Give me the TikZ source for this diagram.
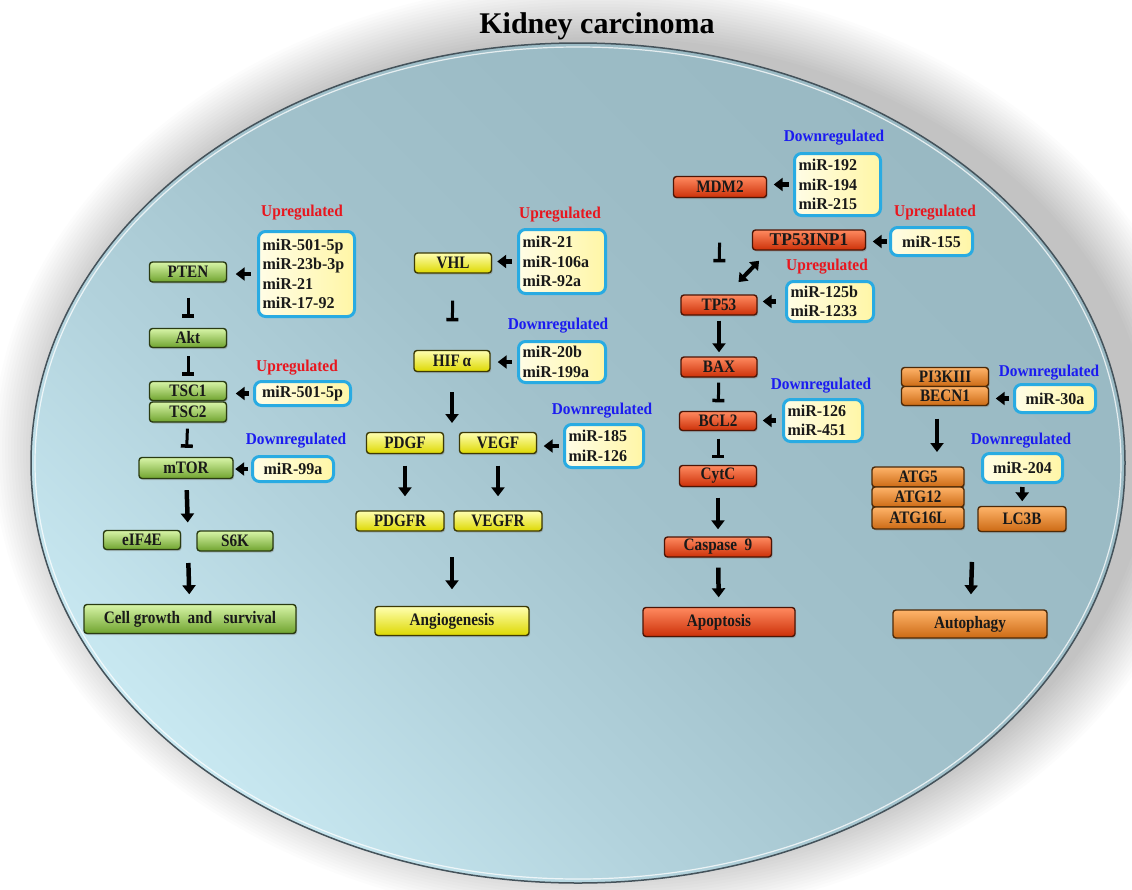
\documentclass[tikz,border=0pt]{standalone}
\usepackage{fontspec}
\setmainfont{Liberation Serif}
\newfontfamily\nodefont[FakeStretch=0.87]{Liberation Serif}
\newfontfamily\mirfont[FakeStretch=0.97]{Liberation Serif}
\newfontfamily\labfont[FakeStretch=0.93]{Liberation Serif}
\usetikzlibrary{arrows.meta,shadows,calc}
\definecolor{gnT}{HTML}{D8F5A8}\definecolor{gnM}{HTML}{9ED155}\definecolor{gnB}{HTML}{6FA32E}\definecolor{gnD}{HTML}{2A3B12}
\definecolor{ylT}{HTML}{FFFFB0}\definecolor{ylM}{HTML}{FFFF00}\definecolor{ylB}{HTML}{DDD800}\definecolor{ylD}{HTML}{3D3A05}
\definecolor{rdT}{HTML}{FF8A60}\definecolor{rdM}{HTML}{F5461A}\definecolor{rdB}{HTML}{CC3008}\definecolor{rdD}{HTML}{4D1505}
\definecolor{orT}{HTML}{FFB46A}\definecolor{orM}{HTML}{F0882A}\definecolor{orB}{HTML}{CC6A14}\definecolor{orD}{HTML}{4D2A08}
\definecolor{mirB}{HTML}{29ABE2}\definecolor{mirL}{HTML}{FFFDE6}\definecolor{mirR}{HTML}{FFF6A6}
\definecolor{upC}{HTML}{E8161E}\definecolor{dnC}{HTML}{1B1BF0}
\definecolor{elA}{HTML}{C8E8F1}\definecolor{elB}{HTML}{B2D2DC}\definecolor{elC}{HTML}{A2C2CC}
\definecolor{elD}{HTML}{9CBCC6}\definecolor{elF}{HTML}{99B9C3}\definecolor{elE}{HTML}{44525A}
\pgfdeclareverticalshading{elshade}{100bp}{color(0bp)=(elA); color(25bp)=(elA); color(38bp)=(elB);
  color(50bp)=(elC); color(62bp)=(elD); color(75bp)=(elF); color(100bp)=(elF)}
\begin{document}
\begin{tikzpicture}[x=1pt,y=-1pt,
  box/.style={rounded corners=3pt, line width=1.4pt, inner sep=0pt,
    font=\nodefont\bfseries\fontsize{17.5}{19}\selectfont, text=black!90,
    drop shadow={shadow xshift=1.2pt, shadow yshift=-1.5pt, opacity=0.4}},
  wh/.style 2 args={minimum width=#1pt, minimum height=#2pt},
  gn/.style={box, draw=gnD, top color=gnT, middle color=gnM, bottom color=gnB},
  yl/.style={box, draw=ylD, top color=ylT, middle color=ylM, bottom color=ylB},
  rd/.style={box, draw=rdD, top color=rdT, middle color=rdM, bottom color=rdB},
  og/.style={box, draw=orD, top color=orT, middle color=orM, bottom color=orB},
  mir/.style={rounded corners=7pt, draw=mirB, line width=3pt, left color=mirL, right color=mirR,
    inner xsep=4pt, inner ysep=1pt, font=\mirfont\bfseries\fontsize{16.5}{19.5}\selectfont, text=black!90},
  mirm/.style={mir, align=left},
  lab/.style={inner sep=0pt, font=\labfont\bfseries\fontsize{16.5}{18}\selectfont},
  up/.style={lab, text=upC},
  dn/.style={lab, text=dnC},
  arr/.style={line width=4.5pt, -{Triangle[width=13pt,length=9pt]}},
  inh/.style={line width=3pt, -{Bar[width=12pt,line width=3.5pt]}},
  dbl/.style={line width=4pt, {Triangle[width=12pt,length=8pt]}-{Triangle[width=12pt,length=8pt]}}
]
\useasboundingbox (0,0) rectangle (1132,889);
\fill[white] (0,0) rectangle (1132,889);
% soft shadow around the ellipse
\foreach \k in {0,...,19} {
  \fill[black,opacity=0.013] (600,450) ellipse [x radius={607pt-3pt*\k}, y radius={470pt-3pt*\k}];
}
% main ellipse
\path[shading=elshade, shading angle=-45]
  (578,463) ellipse [x radius=547pt, y radius=420pt];
\draw[elE, line width=1.5pt] (578,463) ellipse [x radius=547pt, y radius=420pt];
\draw[white, opacity=0.75, line width=1.2pt] (578,463) ellipse [x radius=543pt, y radius=416pt];

\node[anchor=base, font=\bfseries\fontsize{30}{32}\selectfont] (title) at (597,33) {Kidney carcinoma};

% ---------- left column ----------
\node[up] (u1) at (302,213) {Upregulated};
\node[mirm, wh={96}{85}, text width=88pt] (mir1) at (306.5,274) {miR-501-5p\\miR-23b-3p\\miR-21\\miR-17-92};
\node[gn, wh={77}{20}] (pten) at (188,272) {PTEN};
\node[gn, wh={77}{19}] (akt) at (188,338) {Akt};
\node[gn, wh={77}{19}] (tsc1) at (188,391) {TSC1};
\node[gn, wh={77}{20}] (tsc2) at (188,412) {TSC2};
\node[up] (u2) at (297,368) {Upregulated};
\node[mir, wh={96}{24}] (mir2) at (302.5,393.5) {miR-501-5p};
\node[dn] (d1) at (296,441) {Downregulated};
\node[gn, wh={94}{21}] (mtor) at (186,468) {mTOR};
\node[mir, wh={81}{25}] (mir3) at (293,469) {miR-99a};
\node[gn, wh={77}{19}] (eif) at (142,540) {eIF4E};
\node[gn, wh={76}{20}] (s6k) at (235,541) {S6K};
\node[gn, wh={212}{29}] (cell) at (190,619) {Cell growth\ \ and\ \ \ survival};
\coordinate (g1) at (188,530.5);
\coordinate (g2) at (188,551);

% ---------- middle column ----------
\node[up] (u3) at (560,215) {Upregulated};
\node[mirm, wh={87}{64}, text width=79pt] (mir4) at (562,261.5) {miR-21\\miR-106a\\miR-92a};
\node[yl, wh={77}{20}] (vhl) at (453,263) {VHL};
\node[dn] (d2) at (558,326) {Downregulated};
\node[mirm, wh={87}{41}, text width=79pt] (mir5) at (562,362) {miR-20b\\miR-199a};
\node[yl, wh={76}{21}] (hif) at (452,361) {HIF\,α};
\node[dn] (d3) at (602,411) {Downregulated};
\node[yl, wh={77}{21}] (pdgf) at (405,443) {PDGF};
\node[yl, wh={77}{21}] (vegf) at (498,443) {VEGF};
\node[mirm, wh={79}{43}, text width=71pt] (mir6) at (604,446) {miR-185\\miR-126};
\node[yl, wh={88}{20}] (pdgfr) at (400,521) {PDGFR};
\node[yl, wh={88}{20}] (vegfr) at (498,521) {VEGFR};
\node[yl, wh={154}{29}] (angio) at (452,621) {Angiogenesis};
\coordinate (g3) at (452,432.5);
\coordinate (g4) at (452,531);

% ---------- apoptosis column ----------
\node[dn] (d4) at (834,138) {Downregulated};
\node[mirm, wh={86}{62}, text width=78pt] (mir7) at (837.5,184.5) {miR-192\\miR-194\\miR-215};
\node[rd, wh={93}{21}] (mdm2) at (720,187) {MDM2};
\node[up] (u4) at (935,213) {Upregulated};
\node[mir, wh={82}{28}] (mir8) at (931.5,241.5) {miR-155};
\node[rd, wh={113}{20}, font=\mirfont\bfseries\fontsize{18}{19}\selectfont] (tp53inp1) at (809,240) {TP53INP1};
\node[up] (u5) at (827,267) {Upregulated};
\node[mirm, wh={87}{40}, text width=79pt] (mir9) at (830,301.5) {miR-125b\\miR-1233};
\node[rd, wh={76}{20}] (tp53) at (719,305) {TP53};
\node[rd, wh={76}{20}] (bax) at (719,367) {BAX};
\node[dn] (d5) at (821,386) {Downregulated};
\node[mirm, wh={79}{42}, text width=71pt] (mir10) at (823,420.5) {miR-126\\miR-451};
\node[rd, wh={77}{19}] (bcl2) at (718,421) {BCL2};
\node[rd, wh={77}{21}] (cytc) at (718,476) {CytC};
\node[rd, wh={107}{20}] (casp) at (718,547) {Caspase\ \ 9};
\node[rd, wh={152}{29}] (apop) at (719,622) {Apoptosis};

% ---------- autophagy column ----------
\node[og, wh={87}{19}] (pi3k) at (945,377) {PI3KIII};
\node[og, wh={87}{19}] (becn1) at (945,396) {BECN1};
\node[dn] (d6) at (1049,373) {Downregulated};
\node[mir, wh={81}{28}] (mir11) at (1055,398.5) {miR-30a};
\node[dn] (d7) at (1021,441) {Downregulated};
\node[mir, wh={80}{29}] (mir12) at (1022.5,468) {miR-204};
\node[og, wh={92}{20}] (atg5) at (918,477) {ATG5};
\node[og, wh={92}{20}] (atg12) at (918,497) {ATG12};
\node[og, wh={92}{22}] (atg16) at (918,518) {ATG16L};
\node[og, wh={88}{25}] (lc3b) at (1022,519) {LC3B};
\node[og, wh={154}{28}] (autoph) at (970,624) {Autophagy};
\coordinate (g5) at (937,467);
\coordinate (g6) at (973,530);

% ---------- connectors ----------
\draw[inh, shorten <=15pt, shorten >=10pt] (pten) -- (akt);
\draw[inh, shorten <=8pt, shorten >=5pt] (akt) -- (tsc1);
\draw[inh, shorten <=6pt, shorten >=9pt] (tsc2) -- (mtor);
\draw[arr, shorten <=11pt, shorten >=8pt] (mtor) -- (g1);
\draw[arr, shorten <=12pt, shorten >=9.5pt] (g2) -- (cell);
\draw[arr, shorten <=6.5pt, shorten >=8.5pt] (mir1.west) -- (mir1.west -| pten.east);
\draw[arr, shorten <=4.5pt, shorten >=8.5pt] (mir2.west) -- (mir2.west -| tsc1.east);
\draw[arr, shorten <=3.5pt, shorten >=1.5pt] (mir3.west) -- (mir3.west -| mtor.east);

\draw[inh, shorten <=27pt, shorten >=28.5pt] (vhl) -- (hif);
\draw[arr, shorten <=20pt, shorten >=9.5pt] (hif) -- (g3);
\draw[arr, shorten <=11.5pt, shorten >=14pt] (pdgf) -- (pdgf |- pdgfr.north);
\draw[arr, shorten <=11.5pt, shorten >=14pt] (vegf) -- (vegfr);
\draw[arr, shorten <=26pt, shorten >=16.5pt] (g4) -- (angio);
\draw[arr, shorten <=5pt, shorten >=5pt] (mir4.west) -- (mir4.west -| vhl.east);
\draw[arr, shorten <=5pt, shorten >=7pt] (mir5.west) -- (mir5.west -| hif.east);
\draw[arr, shorten <=4.5pt, shorten >=6.5pt] (mir6.west) -- (mir6.west -| vegf.east);

\draw[inh, shorten <=44.5pt, shorten >=32pt] (mdm2) -- (tp53);
\draw[dbl, shorten <=14pt, shorten >=17pt] ([xshift=17pt]tp53inp1.south west) -- ([xshift=-31pt]tp53.north east);
\draw[arr, shorten <=5pt, shorten >=4pt] (tp53) -- (bax);
\draw[inh, shorten <=5pt, shorten >=8.5pt] (bax) -- (bcl2);
\draw[inh, shorten <=7.5pt, shorten >=6.5pt] (bcl2) -- (cytc);
\draw[arr, shorten <=10.5pt, shorten >=7pt] (cytc) -- (casp);
\draw[arr, shorten <=10pt, shorten >=9.5pt] (casp) -- (apop);
\draw[arr, shorten <=4.5pt, shorten >=6.5pt] (mir7.west) -- (mir7.west -| mdm2.east);
\draw[arr, shorten <=2.5pt, shorten >=6.5pt] (mir8.west) -- (mir8.west -| tp53inp1.east);
\draw[arr, shorten <=9.5pt, shorten >=5pt] (mir9.west) -- (mir9.west -| tp53.east);
\draw[arr, shorten <=6.5pt, shorten >=5.5pt] (mir10.west) -- (mir10.west -| bcl2.east);

\draw[arr, shorten <=12.5pt, shorten >=15pt] (becn1.south -| g5) -- (g5);
\draw[arr, shorten <=4.5pt, shorten >=6.5pt] (mir11.west) -- (mir11.west -| becn1.east);
\draw[arr, shorten <=3pt, shorten >=4.5pt] (mir12) -- (lc3b);
\draw[arr, shorten <=32pt, shorten >=15pt] (g6) -- (autoph);
\end{tikzpicture}
\end{document}
